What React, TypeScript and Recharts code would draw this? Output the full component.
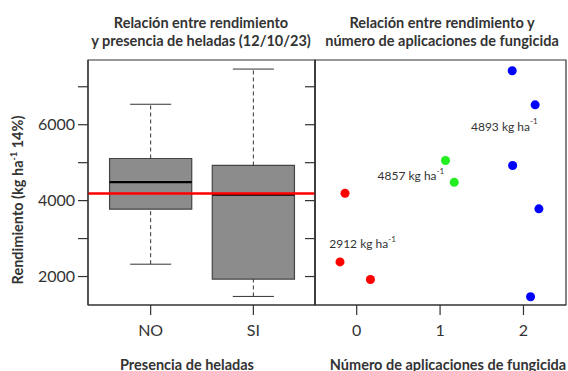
import React from 'react';
import {
  ComposedChart,
  Scatter,
  XAxis,
  YAxis,
  ReferenceArea,
  ReferenceLine,
} from 'recharts';

// boxplot: yield by frost presence
const frostCats = ['NO', 'SI'];
const frostMin = [2325, 1476];
const frostQ1 = [3775, 1932];
const frostMedian = [4490, 4157];
const frostQ3 = [5110, 4927];
const frostMax = [6539, 7466];
const overallMean = 4190;

// scatter: yield by number of fungicide applications (jittered x)
const redX = [-0.14, -0.2, 0.165];
const redY = [4194, 2385, 1921];
const greenX = [1.065, 1.17];
const greenY = [5058, 4482];
const blueX = [1.865, 2.14, 1.87, 2.185, 2.085];
const blueY = [7421, 6524, 4927, 3783, 1469];

const meanLabelX = [0.07, 0.65, 1.77];
const meanLabelY = [2860, 4650, 5955];
const meanLabelText = ['2912', '4857', '4893'];

const yTicks = [2000, 3000, 4000, 5000, 6000, 7000];
const yDomain: [number, number] = [1250, 7705];
const frostDomain: [number, number] = [0.39, 2.6];
const appDomain: [number, number] = [-0.5, 2.51];
const appTicks = [0, 1, 2];

const INK = '#333333';
const FONT = 'Lato, "Open Sans", sans-serif';

const toPoints = (xs: number[], ys: number[]) => xs.map((x, i) => ({ x, y: ys[i] }));

const boxRows = frostCats.map((c, i) => ({ x: i + 1, y: frostMedian[i] }));
const labelRows = meanLabelX.map((x, i) => ({ x, y: meanLabelY[i], text: meanLabelText[i] }));

const axisCommon = {
  axisLine: { stroke: INK, strokeWidth: 1.2 },
  tickLine: { stroke: INK, strokeWidth: 1.2 },
  tick: { fill: INK, fontSize: 16, fontFamily: FONT },
  tickSize: 10,
};

function MeanLabel(props: any) {
  const { cx, cy, payload } = props;
  return (
    <text x={cx} y={cy} textAnchor="middle" dominantBaseline="central" fontSize={12} fontFamily={FONT} fill={INK}>
      {payload.text} kg ha
      <tspan fontSize={8} dy={-5}>-1</tspan>
    </text>
  );
}

function FrostBoxplot() {
  return (
    <ComposedChart width={320} height={371} margin={{ top: 60, right: 5, bottom: 0, left: 28 }}>
      <XAxis
        type="number"
        dataKey="x"
        domain={frostDomain}
        ticks={[1, 2]}
        tickFormatter={(v) => frostCats[v - 1] ?? ''}
        allowDataOverflow
        height={66}
        tickMargin={10}
        {...axisCommon}
      />
      <YAxis
        type="number"
        dataKey="y"
        domain={yDomain}
        ticks={yTicks}
        tickFormatter={(v) => (v % 2000 === 0 ? String(v) : '')}
        allowDataOverflow
        width={60}
        tickMargin={3}
        {...axisCommon}
      />
      <ReferenceArea
        x1={frostDomain[0]}
        x2={frostDomain[1]}
        y1={yDomain[0]}
        y2={yDomain[1]}
        fill="none"
        stroke={INK}
        strokeWidth={1.2}
        fillOpacity={0}
        strokeOpacity={1}
      />
      {frostCats.map((c, i) => {
        const x = i + 1;
        return (
          <React.Fragment key={c}>
            <ReferenceLine
              segment={[{ x, y: frostQ3[i] }, { x, y: frostMax[i] }]}
              stroke={INK}
              strokeDasharray="4 3"
            />
            <ReferenceLine
              segment={[{ x, y: frostMin[i] }, { x, y: frostQ1[i] }]}
              stroke={INK}
              strokeDasharray="4 3"
            />
            <ReferenceLine
              segment={[{ x: x - 0.2, y: frostMax[i] }, { x: x + 0.2, y: frostMax[i] }]}
              stroke={INK}
            />
            <ReferenceLine
              segment={[{ x: x - 0.2, y: frostMin[i] }, { x: x + 0.2, y: frostMin[i] }]}
              stroke={INK}
            />
            <ReferenceArea
              x1={x - 0.4}
              x2={x + 0.4}
              y1={frostQ1[i]}
              y2={frostQ3[i]}
              fill="#8c8c8c"
              fillOpacity={1}
              stroke="#444"
              strokeOpacity={1}
              strokeWidth={1.2}
            />
            <ReferenceLine
              segment={[{ x: x - 0.4, y: frostMedian[i] }, { x: x + 0.4, y: frostMedian[i] }]}
              stroke="#000"
              strokeWidth={2.2}
            />
          </React.Fragment>
        );
      })}
      <ReferenceLine y={overallMean} stroke="#ff0000" strokeWidth={2.5} />
      <Scatter data={boxRows} shape={() => <g />} isAnimationActive={false} />
    </ComposedChart>
  );
}

function FungicideScatter() {
  return (
    <ComposedChart width={263} height={371} margin={{ top: 60, right: 2, bottom: 0, left: 0 }}>
      <XAxis
        type="number"
        dataKey="x"
        domain={appDomain}
        ticks={appTicks}
        allowDataOverflow
        height={66}
        tickMargin={10}
        {...axisCommon}
      />
      <YAxis
        type="number"
        dataKey="y"
        domain={yDomain}
        ticks={yTicks}
        tickFormatter={() => ''}
        allowDataOverflow
        width={10}
        {...axisCommon}
      />
      <ReferenceArea
        x1={appDomain[0]}
        x2={appDomain[1]}
        y1={yDomain[0]}
        y2={yDomain[1]}
        fill="none"
        fillOpacity={0}
        stroke={INK}
        strokeWidth={1.2}
        strokeOpacity={1}
      />
      <Scatter data={toPoints(redX, redY)} fill="#ff0000" isAnimationActive={false} />
      <Scatter data={toPoints(greenX, greenY)} fill="#22ee22" isAnimationActive={false} />
      <Scatter data={toPoints(blueX, blueY)} fill="#0000ff" isAnimationActive={false} />
      <Scatter data={labelRows} shape={MeanLabel} isAnimationActive={false} />
    </ComposedChart>
  );
}

const titleStyle: React.CSSProperties = {
  position: 'absolute',
  width: 320,
  textAlign: 'center',
  fontWeight: 700,
  fontSize: 14.5,
  lineHeight: '18px',
  color: INK,
  whiteSpace: 'nowrap',
};

export default function App() {
  return (
    <div style={{ position: 'relative', width: 568, height: 371, overflow: 'hidden', background: '#fff', fontFamily: FONT }}>
      <style>{'body{margin:0}'}</style>
      <div style={{ position: 'absolute', left: 0, top: 0 }}>
        <FrostBoxplot />
      </div>
      <div style={{ position: 'absolute', left: 305, top: 0 }}>
        <FungicideScatter />
      </div>
      <div style={{ ...titleStyle, left: 201 - 160, top: 14 }}>
        Relación entre rendimiento
        <br />y presencia de heladas (12/10/23)
      </div>
      <div style={{ ...titleStyle, left: 442 - 160, top: 14 }}>
        Relación entre rendimiento y
        <br />
        número de aplicaciones de fungicida
      </div>
      <div style={{ ...titleStyle, left: 187 - 160, top: 356 }}>Presencia de heladas</div>
      <div style={{ ...titleStyle, left: 448 - 160, top: 356 }}>Número de aplicaciones de fungicida</div>
      <div
        style={{
          ...titleStyle,
          width: 240,
          left: 18 - 120,
          top: 200 - 9,
          transform: 'rotate(-90deg)',
        }}
      >
        Rendimiento (kg ha<sup style={{ fontSize: 9, lineHeight: 0 }}>-1</sup> 14%)
      </div>
    </div>
  );
}
